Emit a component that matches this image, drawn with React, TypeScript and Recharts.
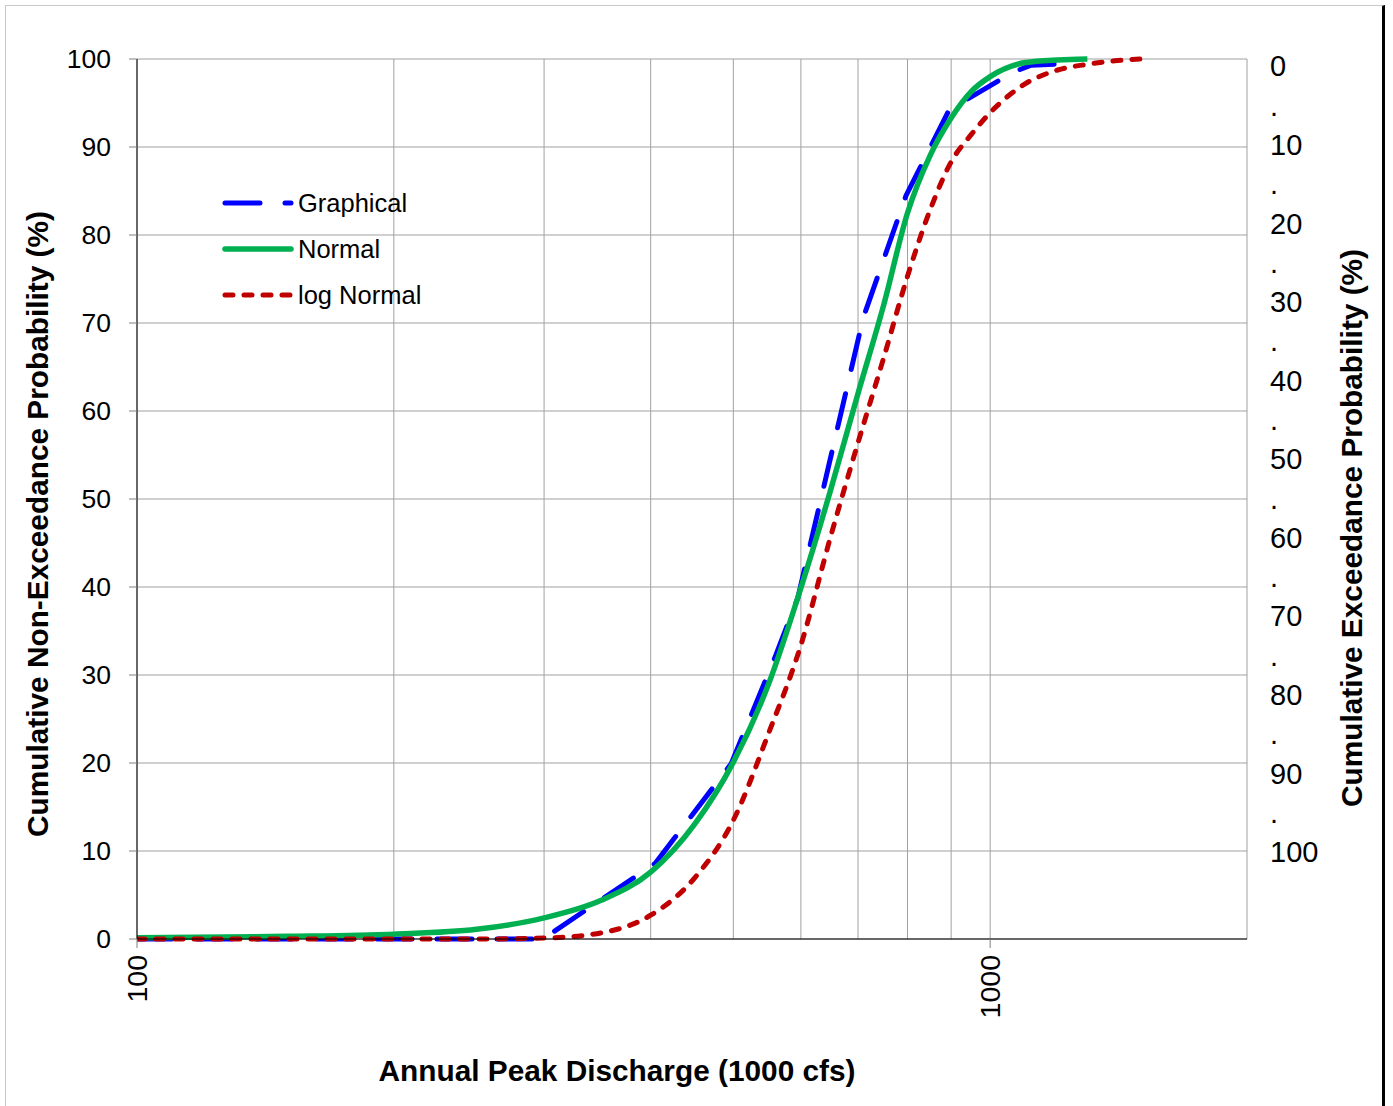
import { LineChart, Line, XAxis, YAxis, CartesianGrid } from "recharts";

// discharge (1000 cfs) grid values on the log axis
const gridTicksX = [100, 200, 300, 400, 500, 600, 700, 800, 900, 1000, 2000];
const labelledX = [100, 1000];
const leftTicks = [0, 10, 20, 30, 40, 50, 60, 70, 80, 90, 100];
const rightTicks = [0, 5, 10, 15, 20, 25, 30, 35, 40, 45, 50, 55, 60, 65, 70, 75, 80, 85, 90, 95, 100];

// Graphical (plotting positions)
const graphicalQ = [100, 299, 405, 497, 561, 595, 710, 797, 895, 1064, 1117, 1245];
const graphicalP = [0, 0, 8.6, 19.9, 32.3, 38.75, 70.6, 84.5, 94.2, 98.5, 99.3, 99.5];

// Normal fit
const normalQ = [100, 150, 200, 250, 300, 350, 400, 450, 500, 550, 600, 650, 700, 750, 800, 850, 900, 950, 1000, 1100, 1200, 1300];
const normalP = [0.15, 0.3, 0.55, 1.1, 2.4, 4.4, 7.6, 13, 20.1, 29, 39.9, 51, 62, 72, 82.5, 89, 93.3, 96.3, 98, 99.6, 99.9, 100];

// log Normal fit
const logNormalQ = [100, 200, 250, 300, 350, 400, 450, 500, 550, 600, 650, 700, 750, 800, 850, 900, 950, 1000, 1100, 1200, 1300, 1400, 1500];
const logNormalP = [0, 0, 0, 0.1, 0.7, 2.7, 6.9, 13.5, 23.4, 33.4, 45.7, 56.4, 66, 75.3, 82.8, 88.3, 91.4, 93.9, 97.2, 98.75, 99.4, 99.8, 100];

const zip = (q: number[], p: number[]) => q.map((v, i) => ({ q: v, p: p[i] }));

const graphicalData = zip(graphicalQ, graphicalP);
const normalData = zip(normalQ, normalP);
const logNormalData = zip(logNormalQ, logNormalP);

const FONT = "Arial, 'Liberation Sans', sans-serif";

function XTick({ x, y, payload }: any) {
  if (!labelledX.includes(payload.value)) return <g />;
  return (
    <g>
      <line x1={x} y1={y} x2={x} y2={y + 9} stroke="#808080" />
      <text
        transform={`translate(${x},${y + 16}) rotate(-90)`}
        textAnchor="end"
        dy="0.36em"
        fontSize={28.5}
        fontFamily={FONT}
        fill="#000"
      >
        {payload.value}
      </text>
    </g>
  );
}

function RightTick({ x, y, payload }: any) {
  const v = payload.value as number;
  return (
    <text x={x} y={y} dy="0.355em" textAnchor="start" fontSize={29} fontFamily={FONT} fill="#000">
      {v % 10 === 0 ? v : "."}
    </text>
  );
}

const legendItems = [
  { name: "Graphical", color: "#0000FF", dash: "35 25", width: 5 },
  { name: "Normal", color: "#00B050", dash: undefined, width: 5.5 },
  { name: "log Normal", color: "#C00000", dash: "8 11", width: 5 },
];

export default function App() {
  return (
    <div style={{ position: "absolute", left: 0, top: 0, width: 1393, height: 1106, overflow: "hidden", background: "#fff", fontFamily: FONT }}>
      {/* outer frame */}
      <div
        style={{
          position: "absolute",
          left: 5,
          top: 5,
          width: 1376,
          height: 1120,
          borderTop: "1px solid #c8c8c8",
          borderLeft: "1px solid #c8c8c8",
          borderRight: "3px solid #000",
        }}
      />

      <div style={{ position: "absolute", left: 0, top: 0 }}>
        <LineChart width={1393} height={1106} margin={{ top: 59, right: 0, bottom: 0, left: 0 }}>
          <CartesianGrid stroke="#a0a0a0" />
          <XAxis
            dataKey="q"
            type="number"
            scale="log"
            domain={[100, 2000]}
            ticks={gridTicksX}
            allowDataOverflow
            height={167}
            tickSize={0}
            tickMargin={0}
            tickLine={false}
            axisLine={{ stroke: "#000" }}
            tick={<XTick />}
            interval={0}
          />
          <YAxis
            type="number"
            domain={[0, 100]}
            ticks={leftTicks}
            width={137}
            tickSize={8}
            tickMargin={18}
            axisLine={{ stroke: "#000" }}
            tickLine={{ stroke: "#808080" }}
            tick={{ fontSize: 26.5, fill: "#000", fontFamily: FONT }}
            interval={0}
          />
          <YAxis
            yAxisId="right"
            orientation="right"
            type="number"
            reversed
            domain={[-0.9, 111.1]}
            allowDataOverflow
            ticks={rightTicks}
            width={146}
            tickSize={0}
            tickMargin={23}
            axisLine={false}
            tickLine={false}
            tick={<RightTick />}
            interval={0}
          />
          <Line
            data={graphicalData}
            dataKey="p"
            type="linear"
            stroke="#0000FF"
            strokeWidth={5}
            strokeDasharray="35 25"
            strokeLinecap="round"
            dot={false}
            isAnimationActive={false}
          />
          <Line
            data={normalData}
            dataKey="p"
            type="monotone"
            stroke="#00B050"
            strokeWidth={5.5}
            dot={false}
            isAnimationActive={false}
          />
          <Line
            data={logNormalData}
            dataKey="p"
            type="monotone"
            stroke="#C00000"
            strokeWidth={5}
            strokeDasharray="8 11"
            strokeLinecap="round"
            dot={false}
            isAnimationActive={false}
          />
        </LineChart>
      </div>

      {/* legend */}
      {legendItems.map((it, i) => (
        <div key={it.name} style={{ position: "absolute", left: 222, top: 203 + i * 46 - 16, height: 32, display: "flex", alignItems: "center" }}>
          <svg width={72} height={32}>
            <line
              x1={3}
              y1={16}
              x2={69}
              y2={16}
              stroke={it.color}
              strokeWidth={it.width}
              strokeDasharray={it.dash}
              strokeLinecap="round"
            />
          </svg>
          <span style={{ fontSize: 25.5, color: "#000", marginLeft: 4, whiteSpace: "nowrap" }}>{it.name}</span>
        </div>
      ))}

      {/* axis titles */}
      <div
        style={{
          position: "absolute",
          left: 38,
          top: 524,
          transform: "translate(-50%, -50%) rotate(-90deg)",
          whiteSpace: "nowrap",
          fontWeight: "bold",
          fontSize: 29.8,
        }}
      >
        Cumulative Non-Exceedance Probability (%)
      </div>
      <div
        style={{
          position: "absolute",
          left: 1352,
          top: 528,
          transform: "translate(-50%, -50%) rotate(-90deg)",
          whiteSpace: "nowrap",
          fontWeight: "bold",
          fontSize: 29.8,
        }}
      >
        Cumulative Exceedance Probability (%)
      </div>
      <div
        style={{
          position: "absolute",
          left: 617,
          top: 1071,
          transform: "translate(-50%, -50%)",
          whiteSpace: "nowrap",
          fontWeight: "bold",
          fontSize: 29.8,
        }}
      >
        Annual Peak Discharge (1000 cfs)
      </div>
    </div>
  );
}
